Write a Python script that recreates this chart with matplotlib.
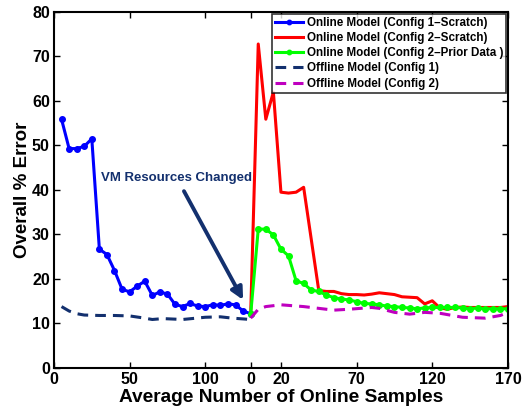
import numpy as np
import matplotlib
matplotlib.use('Agg')
import matplotlib.pyplot as plt

plt.rcParams['font.family'] = ['Liberation Sans', 'DejaVu Sans']
plt.rcParams['font.weight'] = 'bold'

# second phase is drawn after an offset on the same axis
shift = 130

# Config 1, trained from scratch
x_c1 = [5, 10, 15, 20, 25, 30, 35, 40, 45, 50, 55, 60, 65, 70, 75, 80, 85,
        90, 95, 100, 105, 110, 115, 120, 125, 130]
y_c1 = [55.9, 49.3, 49.3, 49.8, 51.5, 26.7, 25.5, 21.9, 17.7, 17.1, 18.4,
        19.5, 16.3, 17.1, 16.6, 14.3, 13.8, 14.5, 13.9, 13.8, 14.2, 14.1,
        14.4, 14.2, 12.8, 12.2]

# Config 2, trained from scratch
x_c2 = [0, 5, 10, 15, 20, 25, 30, 35, 45, 50, 55, 60, 65, 70, 75, 80, 85,
        90, 95, 100, 105, 110, 115, 120, 125, 130, 135, 140, 145, 150, 155,
        160, 165, 170]
y_c2 = [12.0, 72.8, 55.9, 62.0, 39.5, 39.3, 39.5, 40.6, 17.4, 17.2, 17.2,
        16.7, 16.5, 16.5, 16.4, 16.6, 16.9, 16.7, 16.5, 16.0, 15.9, 15.8,
        14.4, 15.1, 13.5, 13.2, 13.6, 13.7, 13.6, 13.6, 13.6, 13.6, 13.6,
        13.8]

# Config 2, with prior data
x_c2p = [0, 5, 10, 15, 20, 25, 30, 35, 40, 45, 50, 55, 60, 65, 70, 75, 80,
         85, 90, 95, 100, 105, 110, 115, 120, 125, 130, 135, 140, 145, 150,
         155, 160, 165, 170]
y_c2p = [12.05, 31.2, 31.2, 29.9, 26.7, 25.2, 19.6, 19.0, 17.5, 17.2, 16.4,
         15.8, 15.5, 15.3, 14.9, 14.5, 14.4, 14.2, 13.9, 13.8, 13.6, 13.5,
         13.3, 13.5, 13.6, 13.6, 13.6, 13.6, 13.5, 13.3, 13.5, 13.3, 13.3,
         13.3, 13.3]

# offline models
x_off1 = [5, 10, 15, 20, 30, 40, 50, 58, 65, 72, 85, 100, 110, 118, 130]
y_off1 = [13.8, 12.8, 12.2, 11.9, 11.8, 11.8, 11.7, 11.3, 10.9, 11.1, 10.9,
          11.4, 11.5, 11.2, 10.9]
x_off2 = [0, 5, 10, 20, 35, 55, 65, 80, 85, 95, 105, 115, 125, 140, 155,
          165, 170]
y_off2 = [11.2, 13.2, 13.8, 14.2, 13.8, 13.0, 13.2, 13.6, 13.4, 12.5, 12.1,
          12.5, 12.3, 11.4, 11.2, 11.8, 12.5]

tick_pos = [0, 50, 100, 130, 150, 200, 250, 300]
tick_lab = ['0', '50', '100', '0', '20', '70', '120', '170']

fig = plt.figure(figsize=(5.22, 4.12), dpi=100)
ax = fig.add_axes([0.1034, 0.1068, 0.8696, 0.8642])

navy = '#13306e'
dash = (0, (3.5, 2.3))
ax.plot(x_c1, y_c1, color='#0000ff', lw=2.2, marker='o', ms=4,
        label='Online Model (Config 1\u2013Scratch)')
ax.plot(np.array(x_c2) + shift, y_c2, color='#ff0000', lw=2.2,
        label='Online Model (Config 2\u2013Scratch)')
ax.plot(np.array(x_c2p) + shift, y_c2p, color='#00ff00', lw=2.2,
        marker='o', ms=4, label='Online Model (Config 2\u2013Prior Data )')
ax.plot(x_off1, y_off1, color=navy, lw=2.2, ls=dash,
        label='Offline Model (Config 1)')
ax.plot(np.array(x_off2) + shift, y_off2, color='#bf00bf', lw=2.2,
        ls=dash, label='Offline Model (Config 2)')

ax.annotate('VM Resources Changed', xy=(125, 15.3), xytext=(81, 42.8),
            ha='center', va='center', color=navy, fontsize=9.5,
            fontweight='bold',
            arrowprops=dict(arrowstyle='-|>', color=navy, lw=2.8,
                            mutation_scale=18, shrinkA=4, shrinkB=0))

ax.set_xlim(0, 300)
ax.set_ylim(0, 80)
ax.set_xticks(tick_pos)
ax.set_xticklabels(tick_lab)
ax.set_yticks(range(0, 81, 10))
ax.tick_params(direction='in', top=True, right=True, length=4, width=1,
               labelsize=11.5, pad=3)
for lab in ax.get_xticklabels() + ax.get_yticklabels():
    lab.set_fontweight('bold')
for sp in ax.spines.values():
    sp.set_linewidth(1.5)

ax.set_xlabel('Average Number of Online Samples', fontsize=13.8,
              fontweight='bold', labelpad=1)
ax.set_ylabel('Overall % Error', fontsize=13.5, fontweight='bold',
              labelpad=1)

leg = ax.legend(loc='upper right', fontsize=8.4, frameon=True, fancybox=False,
                edgecolor='black', borderaxespad=0.15, handlelength=2.4,
                handletextpad=0.3, labelspacing=0.28, borderpad=0.25,
                markerscale=0.8)
leg.get_frame().set_linewidth(1.2)
for t in leg.get_texts():
    t.set_fontweight('bold')

fig.savefig('out.png', dpi=100)
